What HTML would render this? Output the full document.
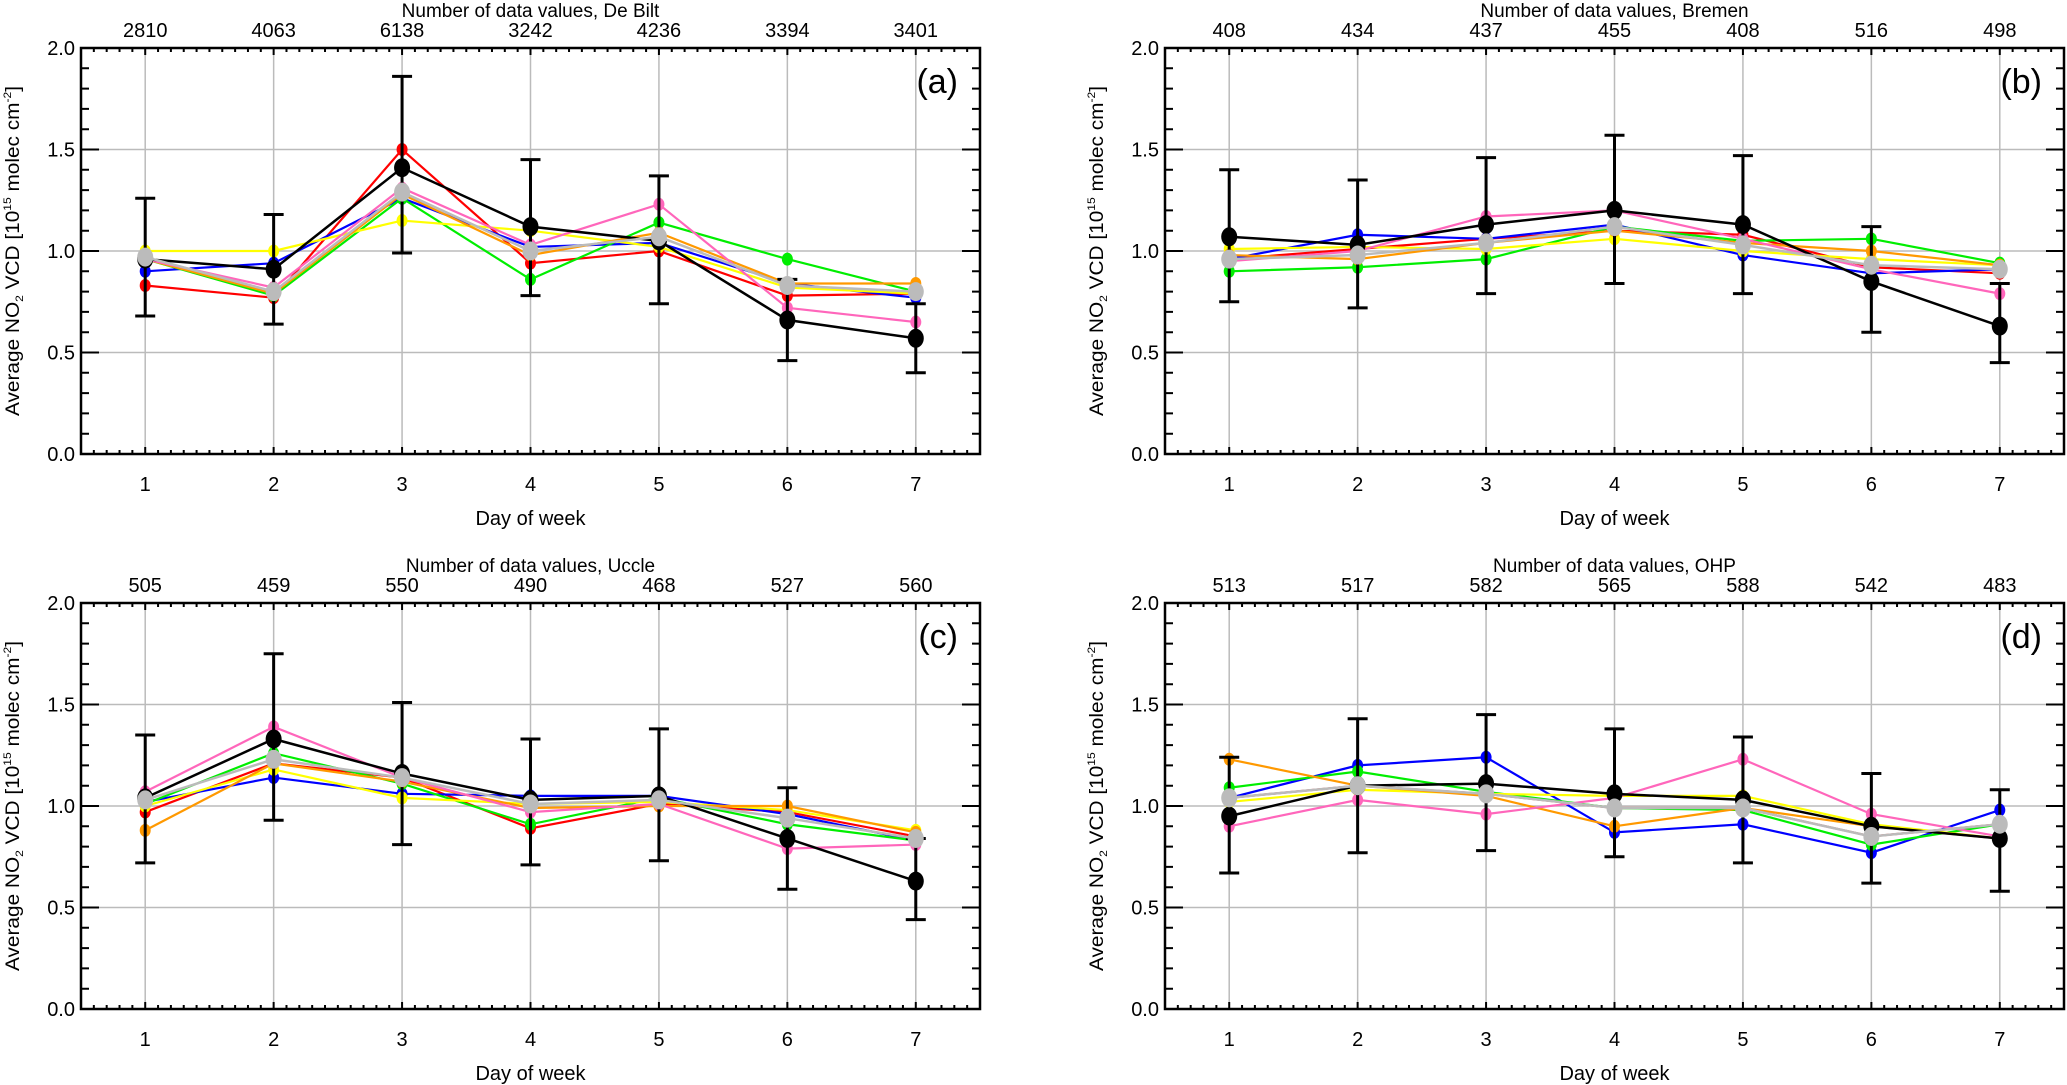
<!DOCTYPE html>
<html><head><meta charset="utf-8"><style>
html,body{margin:0;padding:0;background:#fff;}
svg{display:block;font-family:"Liberation Sans",Arial,sans-serif;}
</style></head><body>
<svg id="chart" width="2067" height="1085" viewBox="0 0 2067 1085" xmlns="http://www.w3.org/2000/svg"></svg>
<script>
const days = [1,2,3,4,5,6,7];
const yTicks = [0.0,0.5,1.0,1.5,2.0];
const panelNames = ["a","b","c","d"];
const stations = ["De Bilt","Bremen","Uccle","OHP"];
const counts = [
 ["2810","4063","6138","3242","4236","3394","3401"],
 ["408","434","437","455","408","516","498"],
 ["505","459","550","490","468","527","560"],
 ["513","517","582","565","588","542","483"]];
const seriesColors = {red:"#ff0000",blue:"#0000ff",green:"#00ee00",yellow:"#ffff00",orange:"#ff9900",pink:"#ff66bb",black:"#000000",gray:"#bbbbbb"};
// panel a
const aRed=[0.83,0.77,1.50,0.94,1.00,0.78,0.79];
const aBlue=[0.90,0.94,1.26,1.02,1.04,0.84,0.77];
const aGreen=[0.96,0.78,1.26,0.86,1.14,0.96,0.80];
const aYellow=[1.00,1.00,1.15,1.10,1.02,0.82,0.79];
const aOrange=[0.96,0.79,1.28,0.98,1.09,0.84,0.84];
const aPink=[0.96,0.82,1.31,1.03,1.23,0.72,0.65];
const aBlack=[0.96,0.91,1.41,1.12,1.05,0.66,0.57];
const aGray=[0.97,0.80,1.29,1.00,1.07,0.83,0.80];
const aErrLo=[0.68,0.64,0.99,0.78,0.74,0.46,0.40];
const aErrHi=[1.26,1.18,1.86,1.45,1.37,0.86,0.74];
// panel b
const bRed=[0.96,1.01,1.06,1.10,1.08,0.92,0.89];
const bBlue=[0.96,1.08,1.06,1.13,0.98,0.89,0.91];
const bGreen=[0.90,0.92,0.96,1.12,1.05,1.06,0.94];
const bYellow=[1.01,1.02,1.01,1.06,1.00,0.96,0.93];
const bOrange=[0.98,0.96,1.04,1.10,1.04,1.00,0.93];
const bPink=[0.95,1.00,1.17,1.20,1.06,0.91,0.79];
const bBlack=[1.07,1.03,1.13,1.20,1.13,0.85,0.63];
const bGray=[0.96,0.98,1.04,1.12,1.03,0.93,0.91];
const bErrLo=[0.75,0.72,0.79,0.84,0.79,0.60,0.45];
const bErrHi=[1.40,1.35,1.46,1.57,1.47,1.12,0.84];
// panel c
const cRed=[0.97,1.21,1.14,0.89,1.01,0.97,0.85];
const cBlue=[1.02,1.14,1.06,1.05,1.05,0.96,0.83];
const cGreen=[1.01,1.26,1.11,0.91,1.04,0.91,0.83];
const cYellow=[1.00,1.18,1.04,1.01,1.02,0.98,0.88];
const cOrange=[0.88,1.21,1.12,0.99,1.00,1.00,0.87];
const cPink=[1.07,1.39,1.14,0.97,1.01,0.79,0.81];
const cBlack=[1.04,1.33,1.16,1.03,1.05,0.84,0.63];
const cGray=[1.03,1.23,1.14,1.01,1.03,0.94,0.84];
const cErrLo=[0.72,0.93,0.81,0.71,0.73,0.59,0.44];
const cErrHi=[1.35,1.75,1.51,1.33,1.38,1.09,0.84];
// panel d
const dRed=[1.04,1.10,1.06,0.99,0.99,0.85,0.91];
const dBlue=[1.04,1.20,1.24,0.87,0.91,0.77,0.98];
const dGreen=[1.09,1.17,1.07,0.99,0.98,0.81,0.91];
const dYellow=[1.02,1.08,1.06,1.05,1.05,0.91,0.84];
const dOrange=[1.23,1.10,1.05,0.90,0.99,0.90,0.84];
const dPink=[0.90,1.03,0.96,1.04,1.23,0.96,0.85];
const dBlack=[0.95,1.10,1.11,1.06,1.03,0.90,0.84];
const dGray=[1.04,1.10,1.06,0.99,0.99,0.85,0.91];
const dErrLo=[0.67,0.77,0.78,0.75,0.72,0.62,0.58];
const dErrHi=[1.24,1.43,1.45,1.38,1.34,1.16,1.08];

const panelSeries=[
 {red:aRed,blue:aBlue,green:aGreen,yellow:aYellow,orange:aOrange,pink:aPink,black:aBlack,gray:aGray,lo:aErrLo,hi:aErrHi},
 {red:bRed,blue:bBlue,green:bGreen,yellow:bYellow,orange:bOrange,pink:bPink,black:bBlack,gray:bGray,lo:bErrLo,hi:bErrHi},
 {red:cRed,blue:cBlue,green:cGreen,yellow:cYellow,orange:cOrange,pink:cPink,black:cBlack,gray:cGray,lo:cErrLo,hi:cErrHi},
 {red:dRed,blue:dBlue,green:dGreen,yellow:dYellow,orange:dOrange,pink:dPink,black:dBlack,gray:dGray,lo:dErrLo,hi:dErrHi}];

const NS="http://www.w3.org/2000/svg";
const svg=document.getElementById("chart");
function mk(tag,attrs,parent,text){const e=document.createElementNS(NS,tag);for(const k in attrs)e.setAttribute(k,attrs[k]);if(text!==undefined)e.textContent=text;parent.appendChild(e);return e;}
const origins=[[81,48],[1165,48],[81,603],[1165,603]];
const W=899,H=406;
panelNames.forEach((pn,pi)=>{
  const [ox,oy]=origins[pi];
  const g=mk("g",{transform:`translate(${ox},${oy})`},svg);
  
  
  const X=d=>(d-0.5)/7*W;
  const Y=v=>H-v/2*H;
  days.forEach(d=>{const l=mk("line",{x1:X(d),x2:X(d),y1:0,y2:H,stroke:"#bbbbbb","stroke-width":1.5},g);
    });
  [0.5,1.0,1.5].forEach(v=>{const l=mk("line",{x1:0,x2:W,y1:Y(v),y2:Y(v),stroke:"#bbbbbb","stroke-width":1.5},g);
    });
  let tk="";
  for(let i=0;i<=70;i++){const x=X(0.5+i*0.1);const L=(i%10===5)?7:4;tk+=`M${x},0v${L}M${x},${H}v${-L}`;}
  for(let i=0;i<=20;i++){const y=Y(i*0.1);const L=(i%5===0)?18:8;tk+=`M0,${y}h${L}M${W},${y}h${-L}`;}
  const tp=mk("path",{d:tk,stroke:"#000","stroke-width":2,fill:"none"},g);
  
  const box=mk("rect",{x:0,y:0,width:W,height:H,fill:"none",stroke:"#000","stroke-width":2.5},g);
  
  yTicks.forEach(v=>{const t=mk("text",{x:-6,y:Y(v)+7,"text-anchor":"end","font-size":20},g,v.toFixed(1));
    });
  days.forEach((d,i)=>{
    const t=mk("text",{x:X(d),y:H+37,"text-anchor":"middle","font-size":20},g,String(d));
    
    const c=mk("text",{x:X(d),y:-11,"text-anchor":"middle","font-size":20},g,counts[pi][i]);
    
  });
  const tt=mk("text",{x:W/2,y:-31,"text-anchor":"middle","font-size":19},g,"Number of data values, "+stations[pi]);
  
  const xt=mk("text",{x:W/2,y:H+71,"text-anchor":"middle","font-size":20},g,"Day of week");
  
  const yt=mk("text",{transform:`translate(-62,${H/2}) rotate(-90)`,"text-anchor":"middle","font-size":19,textLength:330,lengthAdjust:"spacingAndGlyphs"},g);
  
  yt.innerHTML='Average NO<tspan font-size="11" dy="4">2</tspan><tspan dy="-4"> VCD [10</tspan><tspan font-size="11" dy="-8">15</tspan><tspan dy="8"> molec cm</tspan><tspan font-size="11" dy="-8">-2</tspan><tspan dy="8">]</tspan>';
  const pl=mk("text",{x:W-22,y:45,"text-anchor":"end","font-size":34},g,"("+pn+")");
  
  const S=panelSeries[pi];
  ["red","blue","green","yellow","orange","pink"].forEach(k=>{
    const pts=S[k].map((v,i)=>X(days[i])+","+Y(v)).join(" ");
    const l=mk("polyline",{points:pts,fill:"none",stroke:seriesColors[k],"stroke-width":2.2},g);
    
    S[k].forEach((v,i)=>{const c=mk("ellipse",{cx:X(days[i]),cy:Y(v),rx:5.5,ry:6.5,fill:seriesColors[k]},g);
      });
  });
  days.forEach((d,i)=>{const x=X(d),y1=Y(S.lo[i]),y2=Y(S.hi[i]);
    const e=mk("path",{d:`M${x},${y1}V${y2}M${x-10},${y1}h20M${x-10},${y2}h20`,stroke:"#000","stroke-width":3,fill:"none"},g);
    });
  ["black","gray"].forEach(k=>{
    const pts=S[k].map((v,i)=>X(days[i])+","+Y(v)).join(" ");
    const l=mk("polyline",{points:pts,fill:"none",stroke:seriesColors[k],"stroke-width":2.5},g);
    
    S[k].forEach((v,i)=>{const c=mk("ellipse",{cx:X(days[i]),cy:Y(v),rx:8,ry:9.5,fill:seriesColors[k]},g);
      });
  });
});
</script>
</body></html>
